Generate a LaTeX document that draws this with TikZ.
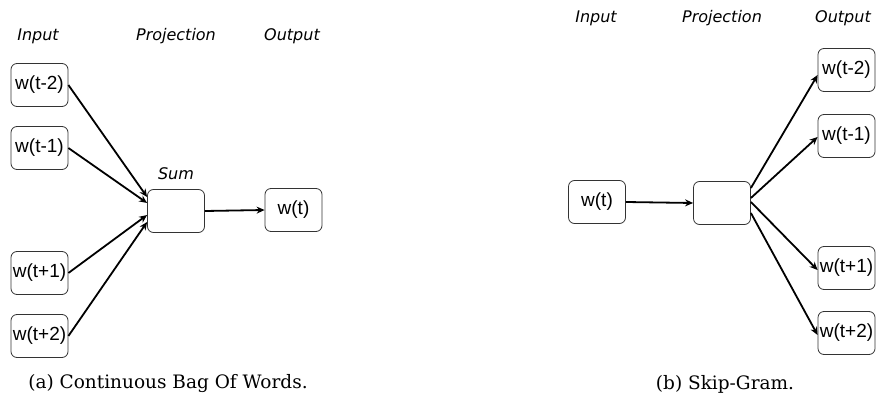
\documentclass[tikz,border=0pt]{standalone}
\usepackage{fontspec}
\newfontfamily\boxfont{Liberation Sans}
\newfontfamily\handfont{DejaVu Sans}
\newfontfamily\capfont{DejaVu Serif}
\usetikzlibrary{arrows.meta}
\tikzset{
  wbox/.style={draw=black!80, line width=0.8pt, rounded corners=6pt, minimum width=57pt, minimum height=43pt, inner sep=0pt, font=\boxfont\fontsize{19}{21}\selectfont},
  hdr/.style={font=\handfont\itshape\fontsize{16}{18}\selectfont, inner sep=0pt},
  captext/.style={font=\capfont\fontsize{18.5}{21}\selectfont, inner sep=0pt},
  arr/.style={-{Stealth[length=8pt,width=7pt]}, line width=1.8pt}
}
\begin{document}
\begin{tikzpicture}[x=1pt,y=-1pt]
\useasboundingbox (0,0) rectangle (880,398);
% left panel
\node[hdr] (hin) at (38,36) {Input};
\node[hdr] (hproj) at (176,36) {Projection};
\node[hdr] (hout) at (292,36) {Output};
\node[wbox] (a1) at (39.5,85) {w(t-2)};
\node[wbox] (a2) at (39.5,148) {w(t-1)};
\node[wbox] (a3) at (39.5,273) {w(t+1)};
\node[wbox] (a4) at (39.5,336) {w(t+2)};
\node[wbox] (sum) at (176,211) {};
\node[hdr] (sumlbl) at (176,174) {Sum};
\node[wbox] (aout) at (293.5,210) {w(t)};
\draw[arr] (a1.east) -- ([yshift=14pt]sum.west);
\draw[arr] (a2.east) -- ([yshift=8pt]sum.west);
\draw[arr] (a3.east) -- ([yshift=-4pt]sum.west);
\draw[arr] (a4.east) -- ([yshift=-11pt]sum.west);
\draw[arr] (sum.east) -- (aout.west);
\node[captext] (capa) at (168,384) {(a) Continuous Bag Of Words.};
% right panel
\node[hdr] (bhin) at (596,18) {Input};
\node[hdr] (bhproj) at (722,18) {Projection};
\node[hdr] (bhout) at (843,18) {Output};
\node[wbox] (bin) at (597,202) {w(t)};
\node[wbox] (proj) at (722,203) {};
\node[wbox] (b1) at (846.5,70) {w(t-2)};
\node[wbox] (b2) at (846.5,136) {w(t-1)};
\node[wbox] (b3) at (846.5,268) {w(t+1)};
\node[wbox] (b4) at (846.5,333) {w(t+2)};
\draw[arr] (bin.east) -- (proj.west);
\draw[arr] ([yshift=15pt]proj.east) -- ([yshift=-5pt]b1.west);
\draw[arr] ([yshift=5pt]proj.east) -- ([yshift=-1pt]b2.west);
\draw[arr] ([yshift=1pt]proj.east) -- ([yshift=-2pt]b3.west);
\draw[arr] ([yshift=-10pt]proj.east) -- ([yshift=-2pt]b4.west);
\node[captext] (capb) at (725,384) {(b) Skip-Gram.};
\end{tikzpicture}
\end{document}
